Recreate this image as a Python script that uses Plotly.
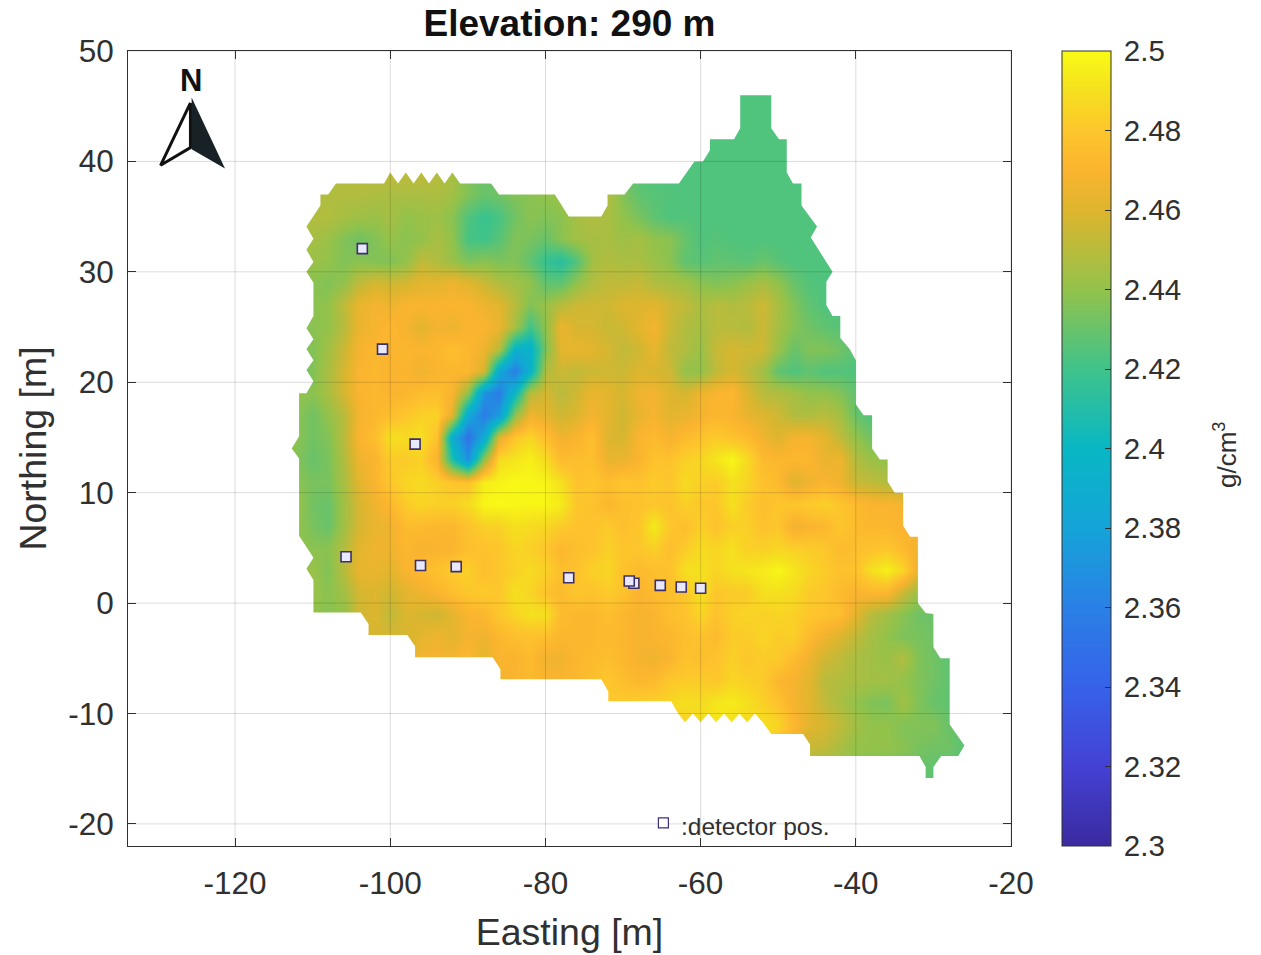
import plotly.graph_objects as go

TITLE = "Elevation: 290 m"
X_TICKS = [-120, -100, -80, -60, -40, -20]
Y_TICKS = [-20, -10, 0, 10, 20, 30, 40, 50]
CB_TICKS = [2.3, 2.32, 2.34, 2.36, 2.38, 2.4, 2.42, 2.44, 2.46, 2.48, 2.5]
CB_LABELS = ["2.3", "2.32", "2.34", "2.36", "2.38", "2.4", "2.42", "2.44", "2.46", "2.48", "2.5"]

# density readings: thousandths of g/cm3 above 2, on a 2 m grid
northing = [47, 45, 43, 41, 39, 37, 35, 33, 31, 29, 27, 25, 23, 21, 19, 17, 15, 13, 11, 9, 7, 5, 3, 1,
            -1, -3, -5, -7, -9, -11, -13, -15, -17]
first_e = [-56, -56, -60, -62, -108, -110, -112, -112, -112, -112, -112, -112, -112, -112, -112, -112, -114, -114, -112, -112, -112, -112, -112, -112,
           -110, -106, -100, -98, -88, -64, -52, -46, -32]
last_e = [-50, -50, -48, -48, -46, -46, -44, -44, -42, -42, -42, -40, -38, -38, -38, -36, -36, -34, -34, -32, -32, -32, -32, -30,
          -28, -28, -26, -26, -26, -24, -24, -26, -30]
density = [
 [424, 424, 424, 424],
 [424, 424, 424, 424],
 [424, 424, 424, 424, 424, 424, 424],
 [424, 424, 424, 424, 424, 424, 424, 424],
 [448, 448, 450, 450, 452, 452, 452, 450, 446, 436, 430, 432, 435, 436, 440, 442, 442, 442, 440, 430, 426, 424, 424, 424, 424, 424, 424, 424, 424, 424, 424, 424],
 [448, 448, 448, 448, 447, 446, 446, 446, 447, 444, 436, 430, 432, 436, 438, 440, 442, 446, 446, 448, 436, 428, 426, 425, 424, 424, 424, 424, 424, 424, 424, 424, 424],
 [448, 448, 448, 445, 443, 442, 445, 440, 442, 443, 438, 424, 418, 422, 432, 438, 436, 438, 445, 448, 446, 440, 434, 428, 424, 425, 424, 424, 424, 424, 424, 424, 424, 424, 424],
 [445, 445, 442, 436, 432, 436, 441, 438, 440, 446, 440, 422, 420, 426, 436, 434, 430, 438, 444, 445, 446, 443, 445, 440, 438, 430, 424, 426, 424, 424, 424, 424, 424, 424, 424],
 [442, 442, 440, 436, 438, 436, 436, 440, 452, 448, 442, 435, 438, 435, 436, 428, 417, 412, 425, 444, 448, 446, 446, 442, 438, 428, 426, 428, 428, 426, 430, 426, 424, 424, 424, 424],
 [438, 438, 436, 440, 452, 458, 456, 458, 462, 462, 466, 462, 455, 448, 444, 440, 428, 428, 440, 448, 452, 452, 454, 448, 446, 444, 438, 436, 438, 442, 446, 440, 430, 425, 424, 424],
 [438, 438, 440, 452, 464, 468, 466, 470, 470, 470, 470, 470, 466, 462, 450, 436, 442, 450, 456, 456, 456, 460, 460, 462, 456, 452, 446, 450, 448, 450, 456, 446, 436, 428, 424, 424],
 [438, 438, 440, 450, 465, 468, 472, 468, 462, 468, 465, 470, 470, 465, 445, 420, 440, 465, 458, 458, 454, 456, 462, 468, 455, 448, 445, 450, 450, 448, 455, 445, 437, 432, 428, 426, 426],
 [436, 436, 444, 455, 468, 472, 470, 472, 470, 472, 476, 472, 466, 450, 395, 392, 436, 462, 464, 462, 458, 452, 456, 464, 452, 448, 442, 454, 458, 456, 456, 442, 430, 436, 436, 432, 426, 426],
 [430, 436, 446, 458, 470, 472, 470, 470, 466, 470, 472, 472, 458, 385, 358, 395, 448, 455, 452, 455, 456, 455, 460, 458, 456, 440, 440, 452, 458, 452, 444, 428, 424, 428, 424, 425, 424, 424],
 [440, 438, 446, 458, 470, 472, 470, 472, 475, 476, 470, 440, 370, 358, 400, 450, 458, 450, 456, 465, 462, 458, 466, 468, 460, 458, 466, 470, 472, 460, 450, 448, 445, 440, 440, 436, 428, 428],
 [438, 432, 440, 450, 468, 472, 476, 480, 484, 485, 462, 385, 358, 375, 440, 466, 462, 456, 460, 468, 462, 456, 464, 468, 462, 464, 468, 472, 470, 464, 460, 456, 448, 448, 450, 445, 430, 424, 424],
 [445, 438, 432, 436, 450, 470, 476, 490, 488, 490, 478, 390, 352, 385, 460, 480, 486, 476, 466, 470, 476, 460, 458, 470, 474, 468, 474, 478, 482, 478, 475, 466, 460, 468, 468, 462, 452, 440, 432, 432],
 [445, 436, 430, 434, 448, 466, 470, 482, 482, 484, 470, 410, 368, 440, 488, 492, 496, 488, 474, 476, 476, 464, 464, 470, 478, 478, 484, 486, 492, 498, 488, 474, 472, 472, 472, 464, 466, 448, 442, 440, 440],
 [438, 434, 434, 446, 462, 470, 480, 486, 488, 484, 480, 478, 495, 497, 499, 498, 497, 490, 478, 480, 476, 480, 478, 482, 480, 488, 484, 482, 490, 486, 478, 474, 460, 466, 470, 466, 454, 452, 448, 446],
 [442, 432, 430, 444, 458, 466, 472, 482, 486, 484, 484, 488, 498, 499, 498, 498, 498, 494, 480, 478, 472, 476, 478, 480, 478, 484, 480, 480, 490, 482, 476, 480, 480, 482, 484, 480, 474, 470, 470, 468, 466],
 [440, 434, 430, 444, 458, 464, 466, 474, 474, 472, 472, 478, 484, 484, 490, 488, 486, 482, 478, 478, 482, 476, 480, 494, 480, 476, 484, 478, 484, 484, 478, 480, 466, 470, 472, 480, 474, 472, 472, 470, 470],
 [440, 438, 438, 448, 462, 466, 466, 472, 468, 470, 470, 476, 478, 480, 486, 484, 480, 472, 476, 478, 484, 480, 480, 484, 476, 482, 488, 486, 490, 484, 484, 486, 484, 482, 480, 474, 476, 478, 480, 474, 466],
 [440, 442, 436, 450, 464, 464, 462, 470, 474, 478, 482, 484, 476, 480, 484, 488, 484, 476, 478, 484, 486, 478, 474, 476, 478, 490, 490, 486, 490, 492, 494, 498, 492, 486, 482, 478, 478, 490, 496, 486, 464],
 [442, 442, 438, 444, 458, 460, 456, 462, 466, 470, 476, 480, 482, 480, 490, 486, 478, 474, 480, 478, 482, 478, 470, 474, 476, 480, 490, 480, 482, 482, 490, 490, 488, 482, 480, 474, 470, 472, 472, 455, 442, 436],
 [440, 438, 440, 456, 460, 452, 460, 458, 456, 462, 470, 472, 480, 486, 490, 490, 474, 472, 472, 476, 472, 468, 470, 476, 478, 486, 478, 484, 486, 484, 486, 484, 480, 478, 476, 462, 450, 444, 438, 432, 430, 430],
 [458, 458, 458, 458, 458, 462, 466, 462, 468, 466, 472, 476, 478, 476, 472, 472, 472, 474, 472, 468, 470, 472, 476, 478, 474, 482, 482, 486, 482, 484, 474, 466, 460, 452, 445, 440, 435, 434, 432, 430],
 [460, 460, 468, 468, 468, 472, 462, 470, 470, 474, 466, 466, 472, 474, 476, 472, 468, 466, 470, 478, 476, 478, 484, 480, 482, 482, 474, 466, 456, 452, 446, 444, 442, 448, 436, 432, 428, 428],
 [470, 470, 470, 470, 470, 470, 466, 470, 474, 470, 470, 472, 476, 480, 476, 472, 474, 480, 482, 482, 480, 486, 484, 482, 472, 468, 462, 450, 448, 446, 444, 444, 440, 436, 432, 428, 428],
 [476, 476, 476, 476, 476, 476, 476, 476, 480, 482, 484, 484, 486, 490, 488, 492, 494, 490, 484, 478, 468, 462, 452, 446, 440, 436, 434, 444, 436, 430, 428, 428],
 [486, 484, 490, 492, 490, 488, 490, 486, 472, 462, 458, 452, 444, 440, 440, 436, 436, 436, 430, 428, 428],
 [486, 476, 466, 454, 452, 446, 440, 440, 440, 438, 434, 432, 432, 426, 426],
 [445, 442, 440, 438, 436, 434, 432, 430, 428, 426, 426],
 [426, 426],
]

# footprint of the surveyed area (Easting, Northing)
area_e = [-110.8, -109, -109, -108, -107, -100.8, -100, -99, -98, -97, -96, -95, -94, -93, -92, -91, -87, -86, -78.8, -77, -72.8, -72, -72, -69.8, -68.7, -62.8, -60.8, -59.7, -58.8, -58.8, -55.7, -54.9, -54.9, -50.9, -50.9, -49.9, -48.9, -48.9, -48.1, -47, -47, -45, -45.8, -43, -43.8, -43.8, -43, -42, -42, -40.8, -40, -40, -39, -37.9, -37.9, -36.9, -35.9, -35.9, -35, -33.9, -33.9, -33, -32, -32, -31, -30, -30, -29.1, -27.9, -27.9, -26, -26.8, -29, -30, -30, -31, -31, -31.8, -45.9, -45.9, -46.8, -50.9, -52, -53, -54, -55, -56, -57, -58, -59, -60, -61, -62, -62.9, -63.8, -71.9, -71.9, -72.8, -85.8, -85.8, -86.8, -96.8, -96.8, -97.8, -102.8, -102.8, -103.8, -109.9, -109.9, -110.8, -109.9, -111.75, -111.75, -112.7, -111.75, -111.75, -110.8, -109.9, -110.8, -109.9, -110.8, -109.9, -110.8, -109.9, -109.9, -110.8, -109.9, -110.8, -109.9, -110.8]
area_n = [34.1, 36, 37, 37, 38, 38, 39, 38, 39, 38, 39, 38, 39, 38, 39, 38, 38, 37, 37, 35, 35, 36, 37, 37, 38, 38, 40, 40, 41, 42, 42, 43, 46, 46, 43, 42, 42, 39, 38, 38, 36, 34.1, 33.1, 30, 29.1, 27, 26, 26, 24, 23, 22, 18, 17, 17, 14, 13, 13, 11, 10, 10, 7, 6, 6, 0, -0.9, -1, -4, -5, -5, -11, -12.9, -13.85, -13.85, -14.85, -15.85, -15.85, -14.85, -13.85, -13.85, -12.8, -11.85, -11.85, -10.8, -10, -10.8, -10, -10.8, -10, -10.8, -10, -10.8, -10, -10.8, -10, -8.9, -8.9, -8, -6.9, -6.9, -6, -4.9, -4.9, -3.9, -2.9, -2.9, -1.9, -0.85, -0.85, 2.1, 3.1, 4.1, 6.1, 13.1, 14, 15.1, 19, 19, 20.1, 21.1, 22, 23, 23.9, 24.9, 26, 29, 30, 30.9, 32, 33, 34.1]

det_e = [-103.6, -101, -96.8, -105.7, -96.1, -91.5, -77, -68.6, -69.2, -65.2, -62.5, -60]
det_n = [32.1, 23, 14.4, 4.2, 3.4, 3.3, 2.3, 1.8, 2, 1.6, 1.45, 1.35]
legend_e, legend_n = [-64.8], [-19.9]
legend_text = ":detector pos."

arrow_left_e = [-125.75, -129.6, -125.75]
arrow_left_n = [45.3, 39.65, 41.25]
arrow_right_e = [-125.6, -121.3, -125.6]
arrow_right_n = [45.8, 39.35, 41.1]

X_RANGE = [-133.8, -20]
Y_RANGE = [-22, 50]

PARULA = [[0, "#3a2a9f"], [.1, "#4441d4"], [.2, "#3662ea"], [.3, "#2a80e6"], [.4, "#15a4d8"],
          [.5, "#08b7c4"], [.6, "#3fc38a"], [.7, "#93c24b"], [.8, "#deb52e"], [.85, "#fbb42f"], [.9, "#fdc62c"],
          [.95, "#f5e01e"], [1, "#f9fb15"]]

easting = list(range(-114, -22, 2))
z = []
for n, a, b, row in zip(northing, first_e, last_e, density):
    if len(row) != (b - a) // 2 + 1:
        raise ValueError(f"row {n}: {len(row)} values for {a}..{b}")
    z.append([2 + row[(e - a) // 2] / 1000 if a <= e <= b else None for e in easting])

FONT = "Liberation Sans"
INK = "#303030"
fig = go.Figure()
fig.add_trace(go.Heatmap(
    x=easting, y=northing, z=z, zmin=2.3, zmax=2.5, zsmooth="best", colorscale=PARULA,
    hoverongaps=False,
    colorbar=dict(
        thickness=49, thicknessmode="pixels", len=1, lenmode="fraction", y=0.5, yanchor="middle",
        x=(1062 - 128) / 883, xanchor="left", xpad=0, ypad=0, outlinecolor=INK, outlinewidth=1,
        tickmode="array", tickvals=CB_TICKS, ticktext=["\u2009" + s for s in CB_LABELS], ticks="inside", ticklen=6,
        tickcolor=INK, tickfont=dict(size=29.5, color=INK, family=FONT),
    ),
))
# white surround outside the surveyed footprint
rx = [X_RANGE[0], X_RANGE[1], X_RANGE[1], X_RANGE[0], X_RANGE[0]]
ry = [Y_RANGE[0], Y_RANGE[0], Y_RANGE[1], Y_RANGE[1], Y_RANGE[0]]
fig.add_trace(go.Scatter(
    x=rx + area_e + area_e[:1] + rx[:1], y=ry + area_n + area_n[:1] + ry[:1],
    mode="none", fill="toself", fillcolor="white", hoverinfo="skip", showlegend=False,
))
# grid lines above the map
gx, gy = [], []
for t in X_TICKS:
    gx += [t, t, None]; gy += [Y_RANGE[0], Y_RANGE[1], None]
for t in Y_TICKS:
    gx += [X_RANGE[0], X_RANGE[1], None]; gy += [t, t, None]
fig.add_trace(go.Scatter(x=gx, y=gy, mode="lines", line=dict(color="rgba(0,0,0,0.14)", width=1),
                         hoverinfo="skip", showlegend=False))
fig.add_trace(go.Scatter(x=det_e, y=det_n, mode="markers", showlegend=False,
                         marker=dict(symbol="square", size=10, color="#e8e8fa", line=dict(color="#3d2f6b", width=1.6))))
fig.add_trace(go.Scatter(x=legend_e, y=legend_n, mode="markers", showlegend=False,
                         marker=dict(symbol="square", size=10, color="#ffffff", line=dict(color="#3d2f80", width=1.2))))
fig.add_trace(go.Scatter(x=arrow_right_e, y=arrow_right_n, mode="none", fill="toself", fillcolor="#172126",
                         hoverinfo="skip", showlegend=False))
fig.add_trace(go.Scatter(x=arrow_left_e + arrow_left_e[:1], y=arrow_left_n + arrow_left_n[:1], mode="lines",
                         fill="toself", fillcolor="white", line=dict(color="#111111", width=3),
                         hoverinfo="skip", showlegend=False))

fig.add_annotation(x=-62.8, y=-20.2, text=legend_text, showarrow=False, xanchor="left", yanchor="middle",
                   font=dict(size=24.5, color="#303030", family=FONT))
fig.add_annotation(x=-125.7, y=47.3, text="<b>N</b>", showarrow=False, xanchor="center", yanchor="middle",
                   font=dict(size=31, color="#111111", family=FONT))
fig.add_annotation(xref="paper", yref="paper", x=(1225 - 128) / 883, y=(846 - 455) / 795, text="g/cm<sup>3</sup>",
                   textangle=-90, showarrow=False, xanchor="center", yanchor="middle",
                   font=dict(size=26, color=INK, family=FONT))

def axis(ticks, rng, title, standoff, label_gap):
    return dict(range=rng, tickmode="array", tickvals=ticks, ticktext=[str(t) for t in ticks],
                ticks="inside", ticklen=8, tickcolor=INK, showline=True, linecolor=INK, linewidth=1,
                mirror="ticks", showgrid=False, zeroline=False, ticklabelstandoff=label_gap, automargin=False,
                tickfont=dict(size=31.5, color=INK, family=FONT),
                title=dict(text=title, standoff=standoff, font=dict(size=37.5, color=INK, family=FONT)))

fig.update_layout(
    width=1261, height=955, autosize=False, paper_bgcolor="white", plot_bgcolor="white",
    margin=dict(l=128, r=250, t=51, b=109, pad=0),
    title=dict(text=f"<b>{TITLE}</b>", x=0.5, xref="paper", xanchor="center", y=1 - 23 / 955, yanchor="middle",
               font=dict(size=37, color="#111111", family=FONT)),
    xaxis=axis(X_TICKS, X_RANGE, "Easting [m]", 18, 9),
    yaxis=axis(Y_TICKS, Y_RANGE, "Northing [m]", 10, 7),
)
fig.write_html("out.html", config={"displayModeBar": False}, post_script="document.body.style.margin='0';")
